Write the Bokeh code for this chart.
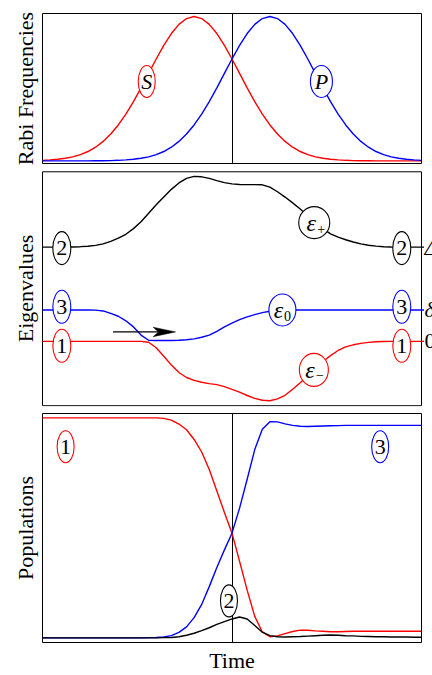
from bokeh.core.properties import value
from bokeh.embed import file_html
from bokeh.layouts import column
from bokeh.models import FixedTicker, Range1d
from bokeh.plotting import figure
from bokeh.resources import INLINE

# common time grid (arbitrary units, pulse overlap centred on 0)
time = [-5.0, -4.8, -4.6, -4.4, -4.2, -4.0, -3.8, -3.6, -3.4, -3.2,
        -3.0, -2.8, -2.6, -2.4, -2.2, -2.0, -1.8, -1.6, -1.4, -1.2,
        -1.0, -0.8, -0.6, -0.4, -0.2, 0.0, 0.2, 0.4, 0.6, 0.8,
        1.0, 1.2, 1.4, 1.6, 1.8, 2.0, 2.2, 2.4, 2.6, 2.8,
        3.0, 3.2, 3.4, 3.6, 3.8, 4.0, 4.2, 4.4, 4.6, 4.8, 5.0]

# Rabi frequencies: Stokes pulse first, pump pulse second (counter-intuitive order)
omega_s = [0.004, 0.007, 0.011, 0.018, 0.028, 0.044, 0.065, 0.095, 0.135, 0.186,
           0.249, 0.324, 0.410, 0.506, 0.606, 0.706, 0.800, 0.882, 0.946, 0.986,
           1.000, 0.986, 0.946, 0.882, 0.800, 0.706, 0.606, 0.506, 0.410, 0.324,
           0.249, 0.186, 0.135, 0.095, 0.065, 0.044, 0.028, 0.018, 0.011, 0.007,
           0.004, 0.002, 0.001, 0.001, 0.000, 0.000, 0.000, 0.000, 0.000, 0.000, 0.000]
omega_p = [0.000, 0.000, 0.000, 0.000, 0.000, 0.000, 0.000, 0.001, 0.001, 0.002,
           0.004, 0.007, 0.011, 0.018, 0.028, 0.044, 0.065, 0.095, 0.135, 0.186,
           0.249, 0.324, 0.410, 0.506, 0.606, 0.706, 0.800, 0.882, 0.946, 0.986,
           1.000, 0.986, 0.946, 0.882, 0.800, 0.706, 0.606, 0.506, 0.410, 0.324,
           0.249, 0.186, 0.135, 0.095, 0.065, 0.044, 0.028, 0.018, 0.011, 0.007, 0.004]

# adiabatic eigenvalues (in units of the two-photon detuning delta)
eps_plus = [3.000, 3.000, 3.001, 3.003, 3.007, 3.015, 3.030, 3.055, 3.105, 3.185,
            3.285, 3.410, 3.590, 3.810, 4.080, 4.350, 4.600, 4.840, 5.045, 5.190,
            5.255, 5.240, 5.190, 5.120, 5.055, 5.015, 4.995, 4.990, 4.990, 4.985,
            4.910, 4.765, 4.595, 4.410, 4.215, 4.000, 3.783, 3.590, 3.425, 3.320,
            3.235, 3.165, 3.105, 3.062, 3.032, 3.013, 3.005, 3.002, 3.000, 3.000, 3.000]
eps_zero = [1.000, 1.000, 1.000, 1.000, 1.000, 1.000, 1.000, 0.995, 0.968, 0.890,
            0.800, 0.655, 0.460, 0.200, 0.035, 0.025, 0.025, 0.028, 0.035, 0.050,
            0.080, 0.130, 0.200, 0.320, 0.460, 0.580, 0.690, 0.780, 0.850, 0.915,
            0.960, 0.985, 0.997, 1.000, 1.000, 1.000, 1.000, 1.000, 1.000, 1.000,
            1.000, 1.000, 1.000, 1.000, 1.000, 1.000, 1.000, 1.000, 1.000, 1.000, 1.000]
eps_minus = [0.000, 0.000, 0.000, 0.000, 0.000, 0.000, 0.000, 0.000, 0.000, 0.000,
             0.000, 0.000, 0.000, 0.000, -0.030, -0.205, -0.475, -0.757, -0.993, -1.152,
             -1.243, -1.302, -1.345, -1.377, -1.440, -1.528, -1.615, -1.725, -1.815, -1.875,
             -1.893, -1.830, -1.718, -1.527, -1.317, -1.092, -0.866, -0.640, -0.455, -0.291,
             -0.178, -0.110, -0.063, -0.034, -0.015, -0.006, -0.002, 0.000, 0.000, 0.000, 0.000]

# state populations
pop_1 = [1.000, 1.000, 1.000, 1.000, 1.000, 1.000, 1.000, 1.000, 1.000, 1.000,
         1.000, 1.000, 1.000, 1.000, 1.000, 1.000, 0.998, 0.990, 0.972, 0.946,
         0.902, 0.845, 0.765, 0.668, 0.570, 0.476, 0.348, 0.217, 0.098, 0.027,
         0.005, 0.009, 0.019, 0.029, 0.035, 0.035, 0.032, 0.030, 0.028, 0.028,
         0.029, 0.030, 0.030, 0.030, 0.030, 0.030, 0.030, 0.030, 0.030, 0.030, 0.030]
pop_2 = [0.000, 0.000, 0.000, 0.000, 0.000, 0.000, 0.000, 0.000, 0.000, 0.000,
         0.000, 0.000, 0.000, 0.000, 0.000, 0.000, 0.001, 0.002, 0.005, 0.012,
         0.021, 0.033, 0.046, 0.061, 0.074, 0.086, 0.095, 0.086, 0.056, 0.026,
         0.010, 0.005, 0.004, 0.005, 0.006, 0.008, 0.010, 0.012, 0.013, 0.012,
         0.010, 0.009, 0.007, 0.006, 0.005, 0.005, 0.004, 0.004, 0.004, 0.003, 0.003]
pop_3 = [0.000, 0.000, 0.000, 0.000, 0.000, 0.000, 0.000, 0.000, 0.000, 0.000,
         0.000, 0.000, 0.000, 0.000, 0.001, 0.002, 0.004, 0.010, 0.025, 0.050,
         0.092, 0.152, 0.233, 0.320, 0.400, 0.476, 0.590, 0.721, 0.856, 0.948,
         0.983, 0.982, 0.973, 0.966, 0.962, 0.961, 0.962, 0.963, 0.964, 0.965,
         0.966, 0.966, 0.966, 0.966, 0.966, 0.966, 0.966, 0.966, 0.966, 0.966, 0.966]

# asymptotic eigenvalue levels named at the right edge
level_names = ["Δ", "δ", "0"]
level_values = [3.0, 1.0, 0.0]
level_styles = ["italic", "italic", "normal"]

SERIF = "Liberation Serif"
RED = "#ff0000"
BLUE = "#0000ff"
BLACK = "#000000"
LW = 1.4
PX_PER_T = 37.9  # horizontal scale shared by the three panels


def make_panel(height, x_range, y_range, ylabel, top, bottom, left=42, right=11,
               xlabel=None, outline=True, standoff=5):
    p = figure(width=432, height=height,
               x_range=Range1d(*x_range), y_range=Range1d(*y_range),
               output_backend="svg", toolbar_location=None,
               x_axis_location="below" if xlabel else None,
               min_border_left=left, min_border_right=right,
               min_border_top=top, min_border_bottom=bottom,
               frame_align=False,
               background_fill_color="white", border_fill_color="white")
    p.xgrid.visible = False
    p.ygrid.visible = False
    p.outline_line_color = BLACK if outline else None
    p.outline_line_width = 1
    p.outline_line_alpha = 1.0
    axes = list(p.yaxis) + (list(p.xaxis) if xlabel else [])
    for ax in axes:
        ax.ticker = FixedTicker(ticks=[], minor_ticks=[])
        ax.axis_line_color = None
        ax.major_tick_line_color = None
        ax.minor_tick_line_color = None
        ax.major_tick_out = 0
        ax.major_tick_in = 0
        ax.minor_tick_out = 0
        ax.minor_tick_in = 0
        ax.major_label_standoff = 0
        ax.axis_label_text_font = SERIF
        ax.axis_label_text_font_size = "22px"
        ax.axis_label_text_font_style = "normal"
        ax.axis_label_text_color = BLACK
        ax.axis_label_standoff = standoff
    p.yaxis.axis_label = ylabel
    if xlabel:
        p.xaxis.axis_label = xlabel
    return p


def tag(p, x, y, w, h, color):
    p.ellipse(x=[x], y=[y], width=w, height=h,
              width_units="screen", height_units="screen",
              fill_color="white", line_color=color, line_width=1.1)


def write(p, x, y, s, size="22px", style="normal", dx=0, dy=0, align="center"):
    p.text(x=[x], y=[y], text=[s], x_offset=dx, y_offset=dy,
           text_font=value(SERIF), text_font_size=size, text_font_style=style,
           text_align=align, text_baseline="middle", text_color=BLACK)


# --- Rabi frequencies -------------------------------------------------------
p1 = make_panel(168, (-5, 5), (-0.018, 1.021), "Rabi Frequencies", 13, 5)
p1.vspan(x=[0.0], line_color=BLACK, line_width=1)
p1.line(time, omega_s, line_color=RED, line_width=LW)
p1.line(time, omega_p, line_color=BLUE, line_width=LW)
tag(p1, -2.25, 0.55, 17, 32, RED)
write(p1, -2.25, 0.55, "S", style="italic")
tag(p1, 2.36, 0.55, 22, 32, BLUE)
write(p1, 2.36, 0.55, "P", style="italic")

# --- adiabatic eigenvalues --------------------------------------------------
# this panel's frame runs to the right edge so the level names fit beside the box
BOX = dict(left=-5.0, right=5.0, bottom=-2.05, top=5.40)
x0 = BOX["left"] - 2 / PX_PER_T
p2 = make_panel(241, (x0, x0 + 392 / PX_PER_T), (-2.075, 5.441), "Eigenvalues",
                2, 3, left=40, right=0, outline=False, standoff=3)
p2.quad(fill_color=None, line_color=BLACK, line_width=1, **{k: [v] for k, v in BOX.items()})
p2.line(time, eps_plus, line_color=BLACK, line_width=LW)
p2.line(time, eps_zero, line_color=BLUE, line_width=LW)
p2.line(time, eps_minus, line_color=RED, line_width=LW)

# direction of the adiabatic passage
ARROW_Y = 0.30
ARROW_TAIL = -3.14
ARROW_NOTCH = -1.94
ARROW_BACK = -2.08
ARROW_TIP = -1.49
ARROW_HALF = 0.15
p2.line([ARROW_TAIL, ARROW_NOTCH], [ARROW_Y, ARROW_Y], line_color=BLACK, line_width=1.3)
p2.patch([ARROW_TIP, ARROW_BACK, ARROW_NOTCH, ARROW_BACK],
         [ARROW_Y, ARROW_Y + ARROW_HALF, ARROW_Y, ARROW_Y - ARROW_HALF],
         fill_color=BLACK, line_color=BLACK, line_width=0.5)

for side in (-4.49, 4.48):
    tag(p2, side, 2.97, 18, 33, BLACK)
    write(p2, side, 2.97, "2")
    tag(p2, side, 1.10, 18, 33, BLUE)
    write(p2, side, 1.10, "3")
    tag(p2, side, -0.14, 18, 33, RED)
    write(p2, side, -0.14, "1")

tag(p2, 2.17, 3.78, 31, 32, BLACK)
write(p2, 2.17, 3.78, "ε", size="24px", style="italic", dx=-3, dy=0)
write(p2, 2.17, 3.78, "+", size="14px", dx=7, dy=6)
tag(p2, 1.33, 1.0, 27, 32, BLUE)
write(p2, 1.33, 1.0, "ε", size="24px", style="italic", dx=-4, dy=0)
write(p2, 1.33, 1.0, "0", size="14px", dx=5, dy=6)
tag(p2, 2.16, -0.91, 29, 33, RED)
write(p2, 2.16, -0.91, "ε", size="24px", style="italic", dx=-4, dy=0)
write(p2, 2.16, -0.91, "−", size="14px", dx=6, dy=5)

stub_end = BOX["right"] + 2.5 / PX_PER_T
for name, lvl, style, color in zip(level_names, level_values, level_styles,
                                   [BLACK, BLUE, RED]):
    p2.segment(x0=[BOX["right"]], y0=[lvl], x1=[stub_end], y1=[lvl],
               line_color=color, line_width=LW)
    write(p2, stub_end, lvl, name, style=style, align="left", dx=0.5)

# --- populations ------------------------------------------------------------
p3 = make_panel(266, (-5, 5), (-0.021, 1.020), "Populations", 4, 28, xlabel="Time")
p3.vspan(x=[0.0], line_color=BLACK, line_width=1)
p3.line(time, pop_1, line_color=RED, line_width=LW)
p3.line(time, pop_3, line_color=BLUE, line_width=LW)
p3.line(time, pop_2, line_color=BLACK, line_width=LW)
tag(p3, -4.39, 0.869, 17, 32, RED)
write(p3, -4.39, 0.869, "1")
tag(p3, 3.91, 0.869, 17, 32, BLUE)
write(p3, 3.91, 0.869, "3")
tag(p3, -0.08, 0.168, 17, 32, BLACK)
write(p3, -0.08, 0.168, "2")

layout = column(p1, p2, p3, spacing=0)
open("out.html", "w").write(file_html(layout, INLINE))
